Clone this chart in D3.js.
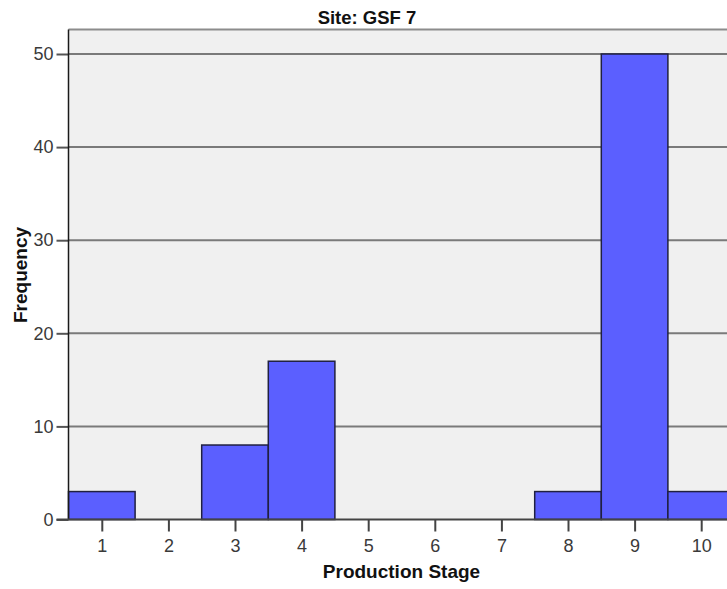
<!DOCTYPE html>
<html>
<head>
<meta charset="utf-8">
<script src="https://cdn.jsdelivr.net/npm/d3@7/dist/d3.min.js"></script>
<style>
  html, body { margin: 0; padding: 0; background: #fff; }
  svg { display: block; font-family: "Liberation Sans", Arial, sans-serif; }
</style>
</head>
<body>
<script>
const title = "Site: GSF 7";
const xTitle = "Production Stage";
const yTitle = "Frequency";
const categories = [1, 2, 3, 4, 5, 6, 7, 8, 9, 10];
const frequencies = [3, 0, 8, 17, 0, 0, 0, 3, 50, 3];
const yTicks = [0, 10, 20, 30, 40, 50];

const W = 727, H = 589;
const plotLeft = 68.5, plotRight = 734.5, plotTop = 29.5, plotBottom = 519.5;

const svg = d3.select("body").append("svg").attr("width", W).attr("height", H);

const x = d3.scaleLinear().domain([0.5, 10.5]).range([plotLeft, plotRight]);
const y = d3.scaleLinear().domain([0, 50]).range([plotBottom, 54]);

// plot background
svg.append("rect")
  .attr("x", plotLeft).attr("y", plotTop)
  .attr("width", plotRight - plotLeft).attr("height", plotBottom - plotTop)
  .attr("fill", "#f0f0f0");

// top frame line
svg.append("line")
  .attr("x1", plotLeft).attr("x2", plotRight)
  .attr("y1", plotTop).attr("y2", plotTop)
  .attr("stroke", "#8c8c8c").attr("stroke-width", 2);

// gridlines
svg.append("g").selectAll("line")
  .data(yTicks.filter(d => d > 0))
  .join("line")
  .attr("x1", plotLeft).attr("x2", plotRight)
  .attr("y1", d => y(d)).attr("y2", d => y(d))
  .attr("stroke", "#7a7a7a").attr("stroke-width", 2);

// bars
const data = categories.map((c, i) => ({ c, v: frequencies[i] })).filter(d => d.v > 0);
svg.append("g").selectAll("rect")
  .data(data)
  .join("rect")
  .attr("x", d => x(d.c - 0.5))
  .attr("y", d => y(d.v))
  .attr("width", d => x(d.c + 0.5) - x(d.c - 0.5))
  .attr("height", d => y(0) - y(d.v))
  .attr("fill", "#5b5fff")
  .attr("stroke", "#202040")
  .attr("stroke-width", 1.5);

// left axis
const yAxis = svg.append("g")
  .attr("transform", `translate(${plotLeft},0)`)
  .call(d3.axisLeft(y).tickValues(yTicks).tickSize(12).tickPadding(3).tickFormat(d3.format("d")));
yAxis.select(".domain").remove();
yAxis.selectAll(".tick line").attr("stroke", "#555").attr("stroke-width", 2);
yAxis.selectAll(".tick text")
  .attr("fill", "#3a3a3a").attr("font-size", 18)
  .attr("font-family", "'Liberation Sans', Arial, sans-serif");

svg.append("line")
  .attr("x1", plotLeft).attr("x2", plotLeft)
  .attr("y1", plotTop).attr("y2", plotBottom)
  .attr("stroke", "#1a1a1a").attr("stroke-width", 1.5);

// bottom axis
const xAxis = svg.append("g")
  .attr("transform", `translate(0,${plotBottom})`)
  .call(d3.axisBottom(x).tickValues(categories).tickSize(12).tickPadding(8).tickFormat(d3.format("d")));
xAxis.select(".domain").remove();
xAxis.selectAll(".tick line").attr("stroke", "#444").attr("stroke-width", 2);
xAxis.selectAll(".tick text")
  .attr("fill", "#3a3a3a").attr("font-size", 18)
  .attr("font-family", "'Liberation Sans', Arial, sans-serif");

svg.append("line")
  .attr("x1", plotLeft - 12).attr("x2", plotRight)
  .attr("y1", plotBottom).attr("y2", plotBottom)
  .attr("stroke", "#444").attr("stroke-width", 2);

// titles
svg.append("text")
  .attr("x", 367).attr("y", 23.5)
  .attr("text-anchor", "middle")
  .attr("font-size", 18.5).attr("font-weight", "bold").attr("fill", "#111")
  .text(title);

svg.append("text")
  .attr("x", (plotLeft + plotRight) / 2).attr("y", 578)
  .attr("text-anchor", "middle")
  .attr("font-size", 19).attr("font-weight", "bold").attr("fill", "#111")
  .text(xTitle);

svg.append("text")
  .attr("transform", "translate(26.5,275) rotate(-90)")
  .attr("text-anchor", "middle")
  .attr("font-size", 19).attr("font-weight", "bold").attr("fill", "#111")
  .text(yTitle);
</script>
</body>
</html>
